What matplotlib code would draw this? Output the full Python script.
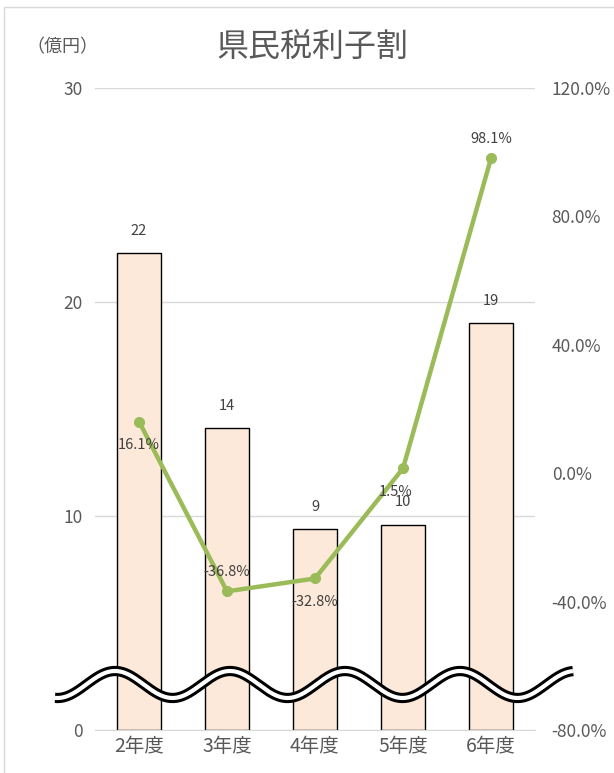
import numpy as np
import matplotlib
matplotlib.use("Agg")
import matplotlib.pyplot as plt
from matplotlib.patches import Rectangle
from matplotlib.ticker import FuncFormatter

plt.rcParams["font.family"] = ["Noto Sans CJK JP", "DejaVu Sans"]

categories = ["2年度", "3年度", "4年度", "5年度", "6年度"]
amounts = [22.3, 14.1, 9.4, 9.6, 19.0]
amount_labels = ["22", "14", "9", "10", "19"]
growth = [16.1, -36.8, -32.8, 1.5, 98.1]
growth_label_below = [True, False, True, True, False]

TEXT = "#595959"
LABEL = "#404040"
BAR_FILL = "#FDE9D9"
LINE_COLOR = "#9BBB59"

fig = plt.figure(figsize=(6.14, 7.73), dpi=100)
ax = fig.add_axes([95 / 614, 1 - 730 / 773, 440 / 614, 642 / 773])
ax2 = ax.twinx()

x = np.arange(len(categories))
ax.bar(x, amounts, width=0.51, color=BAR_FILL, edgecolor="black", linewidth=1.0, zorder=2)
for xi, v, lab in zip(x, amounts, amount_labels):
    ax.annotate(lab, (xi, v), xytext=(0, 11), textcoords="offset points",
                ha="center", va="bottom", fontsize=10.5, color=LABEL)

ax.set_xlim(-0.5, len(categories) - 0.5)
ax.set_ylim(0, 30)
ax.set_yticks([0, 10, 20, 30])
ax.yaxis.grid(True, color="#d9d9d9", linewidth=1.0, zorder=0)
ax.set_axisbelow(True)
ax.set_xticks(x)
ax.set_xticklabels(categories, fontsize=14)
for s in ax.spines.values():
    s.set_visible(False)
ax.spines["bottom"].set_visible(True)
ax.spines["bottom"].set_color("#d9d9d9")
ax.tick_params(axis="y", length=0, labelsize=12.5, colors=TEXT, pad=9)
ax.tick_params(axis="x", length=0, colors=TEXT, pad=4)

ax2.plot(x, growth, color=LINE_COLOR, linewidth=3.2, marker="o", markersize=7, zorder=3)
for xi, g, below in zip(x, growth, growth_label_below):
    off = -12 if below else 9
    dx = -5 if xi == 3 else 0
    ax2.annotate(f"{g:.1f}%", (xi, g), xytext=(dx, off), textcoords="offset points",
                 ha="center", va="top" if below else "bottom", fontsize=10.5, color=LABEL)
ax2.set_ylim(-80, 120)
ax2.set_yticks([-80, -40, 0, 40, 80, 120])
ax2.yaxis.set_major_formatter(FuncFormatter(lambda v, p: f"{v:.1f}%"))
for s in ax2.spines.values():
    s.set_visible(False)
ax2.tick_params(axis="y", length=0, labelsize=12.5, colors=TEXT, pad=12)

fig.text(312 / 614, 1 - 47 / 773, "県民税利子割", ha="center", va="center",
         fontsize=23, color=TEXT)
fig.text(62 / 614, 1 - 47 / 773, "（億円）", ha="center", va="center",
         fontsize=13, color=TEXT)

# chart border
fig.patches.append(Rectangle((4 / 614, -0.1), 1.2, 1 - 7 / 773 + 0.1, transform=fig.transFigure,
                             fill=False, edgecolor="#d9d9d9", linewidth=1.0))

# axis break wave
wx = np.linspace(55, 573, 400)
wy = 684.5 - 13.5 * np.cos(2 * np.pi * (wx - 115) / 115)
fx, fy = wx / 614, 1 - wy / 773
fig.add_artist(plt.Line2D(fx, fy, transform=fig.transFigure, color="black", linewidth=7.4,
                          solid_capstyle="butt", zorder=10))
fig.add_artist(plt.Line2D(fx, fy, transform=fig.transFigure, color="white", linewidth=3.0,
                          solid_capstyle="butt", zorder=11))

fig.savefig("out.png", dpi=100)
